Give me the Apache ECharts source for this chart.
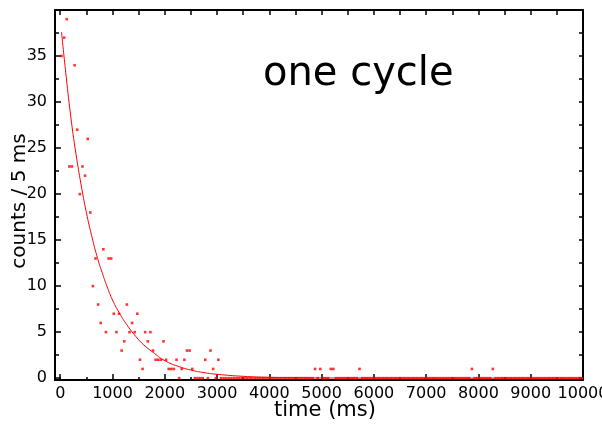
<!DOCTYPE html>
<html>
<head>
<meta charset="utf-8">
<script src="https://cdn.jsdelivr.net/npm/echarts@6/dist/echarts.min.js"></script>
<style>
  html, body { margin: 0; padding: 0; background: #fff; }
  #chart { width: 602px; height: 424px; }
</style>
</head>
<body>
<div id="chart"></div>
<script>
// bins of 50 ms, first bin centre at 25 ms
const binStart = 25;
const binWidth = 50;

// counts per bin (200 bins, 0 - 10000 ms)
const counts = [
  35, 37, 39, 23, 23, 34, 27, 20, 23, 22,
  26, 18, 10, 13, 8, 6, 14, 5, 13, 13,
  7, 5, 7, 3, 4, 8, 5, 6, 5, 7,
  2, 1, 5, 4, 5, 3, 2, 2, 2, 4,
  2, 1, 1, 1, 2, 0, 1, 2, 3, 3,
  1, 0, 0, 0, 0, 2, 0, 3, 1, 0,
  2, 0, 0, 0, 0, 0, 0, 0, 0, 0,
  0, 0, 0, 0, 0, 0, 0, 0, 0, 0,
  0, 0, 0, 0, 0, 0, 0, 0, 0, 0,
  0, 0, 0, 0, 0, 0, 0, 1, 0, 1,
  0, 0, 0, 1, 1, 0, 0, 0, 0, 0,
  0, 0, 0, 0, 1, 0, 0, 0, 0, 0,
  0, 0, 0, 0, 0, 0, 0, 0, 0, 0,
  0, 0, 0, 0, 0, 0, 0, 0, 0, 0,
  0, 0, 0, 0, 0, 0, 0, 0, 0, 0,
  0, 0, 0, 0, 0, 0, 0, 1, 0, 0,
  0, 0, 0, 0, 0, 1, 0, 0, 0, 0,
  0, 0, 0, 0, 0, 0, 0, 0, 0, 0,
  0, 0, 0, 0, 0, 0, 0, 0, 0, 0,
  0, 0, 0, 0, 0, 0, 0, 0, 0, 0
];

// fitted curve
const fitTimes  = [25, 100, 200, 300, 400, 500, 600, 700, 800, 900, 1000, 1150, 1300, 1450, 1600, 1800, 2000, 2250, 2500, 2750, 3000, 3500, 4000, 4500, 5000, 6000, 7000, 8000, 9000, 10000];
const fitValues = [37.6, 33.5, 28.5, 24.4, 21.0, 18.0, 15.5, 13.3, 11.5, 9.9, 8.5, 6.9, 5.6, 4.5, 3.6, 2.7, 1.9, 1.3, 0.88, 0.6, 0.42, 0.2, 0.09, 0.05, 0.02, 0.01, 0, 0, 0, 0];

// tick positions
const xMajor = [0, 1000, 2000, 3000, 4000, 5000, 6000, 7000, 8000, 9000, 10000];
const xMinor = [500, 1500, 2500, 3500, 4500, 5500, 6500, 7500, 8500, 9500];
const yMajor = [0, 5, 10, 15, 20, 25, 30, 35];
const yMinor = [2.5, 7.5, 12.5, 17.5, 22.5, 27.5, 32.5, 37.5];

const points = counts.map((c, i) => [binStart + i * binWidth, c]);
const fitLine = fitTimes.map((t, i) => [t, fitValues[i]]);

const font = 'DejaVu Sans';
const X_MIN = -100, X_MAX = 10000, Y_MIN = -0.2, Y_MAX = 40;
const boxLine = { show: true, onZero: false, lineStyle: { color: '#000', width: 2 } };
const noLine = { show: false, onZero: false };

function xAx(pos, ticks, len, withLabel, withLine) {
  return {
    type: 'value', position: pos, min: X_MIN, max: X_MAX,
    splitLine: { show: false },
    axisLine: withLine ? boxLine : noLine,
    axisTick: { show: true, inside: true, length: len, customValues: ticks,
      lineStyle: { color: '#000', width: 1.5 } },
    axisLabel: withLabel
      ? { show: true, customValues: ticks, color: '#000', fontSize: 16, fontFamily: font, margin: 6,
          formatter: v => String(v) }
      : { show: false }
  };
}
function yAx(pos, ticks, len, withLabel, withLine) {
  return {
    type: 'value', position: pos, min: Y_MIN, max: Y_MAX,
    splitLine: { show: false },
    axisLine: withLine ? boxLine : noLine,
    axisTick: { show: true, inside: true, length: len, customValues: ticks,
      lineStyle: { color: '#000', width: 1.5 } },
    axisLabel: withLabel
      ? { show: true, customValues: ticks, color: '#000', fontSize: 16, fontFamily: font, margin: 8 }
      : { show: false }
  };
}

const xs = [
  xAx('bottom', xMajor, 6, true, true),
  xAx('bottom', xMinor, 3, false, false),
  xAx('top', xMajor, 5, false, true),
  xAx('top', xMinor, 5, false, false)
];
Object.assign(xs[0], {
  name: 'time (ms)', nameLocation: 'middle', nameGap: 20, nameMoveOverlap: false,
  nameTextStyle: { color: '#000', fontSize: 21, fontFamily: font, verticalAlign: 'top',
    padding: [0, 0, 0, 12] }
});
const ys = [
  yAx('left', yMajor, 6, true, true),
  yAx('left', yMinor, 4, false, false),
  yAx('right', yMajor, 4, false, true),
  yAx('right', yMinor, 4, false, false)
];
Object.assign(ys[0], {
  name: 'counts / 5 ms', nameLocation: 'middle', nameGap: 25, nameMoveOverlap: false,
  nameTextStyle: { color: '#000', fontSize: 20, fontFamily: font, verticalAlign: 'bottom',
    padding: [0, 12, 0, 0] }
});

const chart = echarts.init(document.getElementById('chart'), null, { renderer: 'canvas' });
chart.setOption({
  animation: false,
  backgroundColor: '#fff',
  title: {
    text: 'one cycle', left: 258, top: 50,
    textStyle: { color: '#000', fontSize: 40, fontWeight: 'normal', fontFamily: font }
  },
  grid: { left: 55, right: 19, top: 10, bottom: 44, containLabel: false, outerBoundsMode: 'none' },
  xAxis: xs,
  yAxis: ys,
  series: [
    {
      type: 'scatter', xAxisIndex: 0, yAxisIndex: 0,
      data: points, symbol: 'rect', symbolSize: 2.6,
      itemStyle: { color: '#ff0000' }
    },
    {
      type: 'line', xAxisIndex: 0, yAxisIndex: 0,
      data: fitLine, smooth: true, showSymbol: false,
      lineStyle: { color: '#ff0000', width: 1 }, z: 3
    }
  ]
});
</script>
</body>
</html>
